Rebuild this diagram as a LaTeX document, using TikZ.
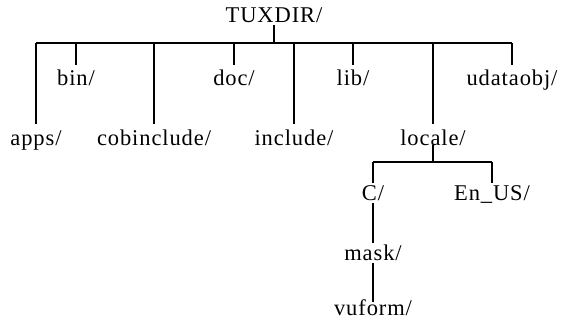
\documentclass[tikz,border=0pt]{standalone}
\usepackage{fontspec}
\setmainfont[LetterSpace=4]{Liberation Serif}
\usetikzlibrary{calc}
\begin{document}
\begin{tikzpicture}[x=1pt,y=-1pt,
  lbl/.style={inner sep=0pt,anchor=base,font=\fontsize{22.5}{26}\selectfont},
  tree/.style={line width=1.3pt}]
\useasboundingbox (0,0) rectangle (561,321);
% labels
\node[lbl] (tux) at (274,23) {TUXDIR/};
\node[lbl] (bin) at (76,85) {bin/};
\node[lbl] (doc) at (234,85) {doc/};
\node[lbl] (lib) at (353,85) {lib/};
\node[lbl] (udataobj) at (512,85) {udataobj/};
\node[lbl] (apps) at (36,145) {apps/};
\node[lbl] (cobinclude) at (154,145) {cobinclude/};
\node[lbl] (include) at (294,145) {include/};
\node[lbl] (locale) at (433,145) {locale/};
\node[lbl] (C) at (373,200) {C/};
\node[lbl] (En) at (492,200) {En\_US/};
\node[lbl] (mask) at (373,260) {mask/};
\node[lbl] (vuform) at (373,315) {vuform/};
% main bar
\coordinate (bar) at (274,43);
\draw[tree] ($(tux.base)+(0,2)$) -- (tux.base |- bar);
\draw[tree] (apps.base |- bar) -- (udataobj.base |- bar);
\foreach \n in {bin,doc,lib,udataobj}
  \draw[tree] (\n.base |- bar) -- ($(\n.base)+(0,-20)$);
\foreach \n in {apps,cobinclude,include,locale}
  \draw[tree] (\n.base |- bar) -- ($(\n.base)+(0,-21)$);
% locale subtree
\coordinate (sub) at ($(locale.base)+(0,17)$);
\draw[tree] (locale.base) -- (sub);
\draw[tree] (C.base |- sub) -- (En.base |- sub);
\foreach \n in {C,En}
  \draw[tree] (\n.base |- sub) -- ($(\n.base)+(0,-17)$);
\draw[tree] ($(C.base)+(0,3)$) -- ($(mask.base)+(0,-17)$);
\draw[tree] ($(mask.base)+(0,3)$) -- ($(vuform.base)+(0,-13)$);
\end{tikzpicture}
\end{document}
